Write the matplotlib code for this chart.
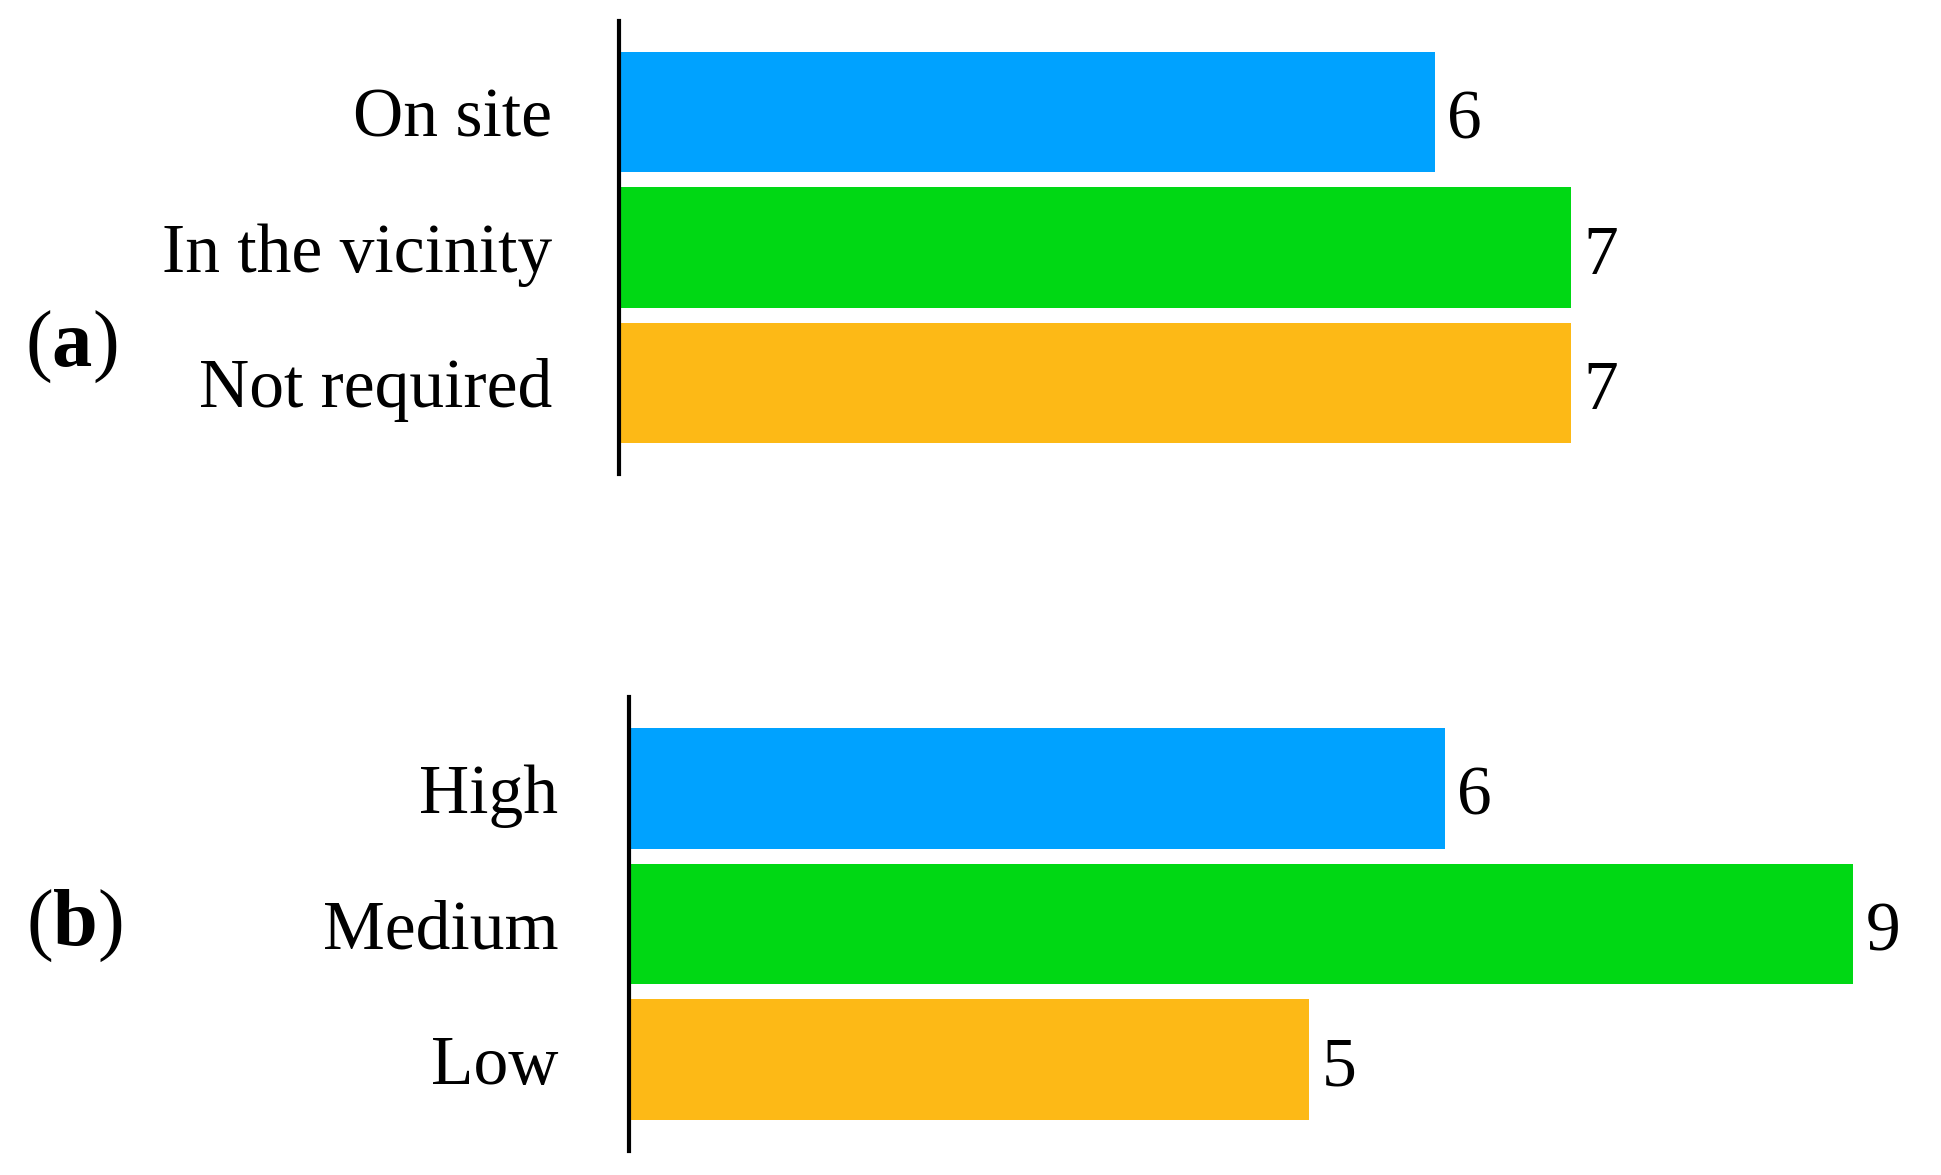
import matplotlib
matplotlib.use("Agg")
import matplotlib.pyplot as plt

# ---------------------------------------------------------------------------
# Data
# ---------------------------------------------------------------------------

location_labels = ["On site", "In the vicinity", "Not required"]
location_counts = [6, 7, 7]

level_labels = ["High", "Medium", "Low"]
level_counts = [6, 9, 5]

BAR_COLORS = ["#00A2FF", "#00D814", "#FDB916"]

plt.rcParams["font.family"] = ["Liberation Serif", "DejaVu Serif"]
plt.rcParams["mathtext.fontset"] = "custom"
plt.rcParams["mathtext.rm"] = "Liberation Serif"
plt.rcParams["mathtext.bf"] = "Liberation Serif:bold"

FS = 50
W, H = 1941, 1175


def draw_panel(ax, labels, counts, pad):
    ypos = list(range(len(labels)))
    ax.barh(ypos, counts, height=0.89, color=BAR_COLORS)
    for y, v in zip(ypos, counts):
        ax.annotate(str(v), (v, y), xytext=(9, -7), textcoords="offset points",
                    va="center", ha="left", fontsize=FS)
    ax.set_yticks(ypos)
    ax.set_yticklabels(labels, fontsize=FS)
    ax.tick_params(axis="y", length=0, pad=pad)
    ax.set_xticks([])
    ax.set_xlim(0, 9.5)
    ax.set_ylim(len(labels) - 0.325, -0.675)
    for side in ("top", "right", "bottom"):
        ax.spines[side].set_visible(False)
    ax.spines["left"].set_linewidth(3)


fig = plt.figure(figsize=(W / 100, H / 100), dpi=100)

# axes rectangles in pixels: left, top, bottom of the spine
ax_a = fig.add_axes([619 / W, (H - 474) / H, 1292 / W, 453 / H])
ax_b = fig.add_axes([629 / W, (H - 1151) / H, 1292 / W, 454 / H])

draw_panel(ax_a, location_labels, location_counts, pad=48)
draw_panel(ax_b, level_labels, level_counts, pad=51)

fig.text(71 / W, 1 - 347 / H, r"($\mathbf{a}$)", fontsize=58, ha="center", va="center")
fig.text(74 / W, 1 - 926 / H, r"($\mathbf{b}$)", fontsize=58, ha="center", va="center")

fig.savefig("out.png", dpi=100, facecolor="white")
